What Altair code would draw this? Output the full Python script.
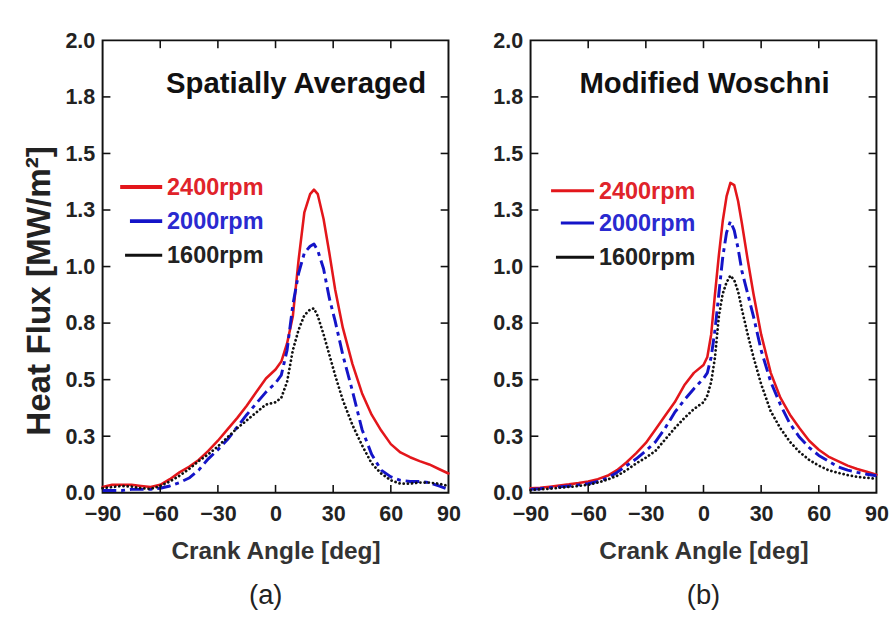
import altair as alt
import pandas as pd

FONT = "Liberation Sans"

# Axis tick positions
x_ticks = [-90, -60, -30, 0, 30, 60, 90]
y_ticks = [0.0, 0.25, 0.5, 0.75, 1.0, 1.25, 1.5, 1.75, 2.0]

speeds = ["2400rpm", "2000rpm", "1600rpm"]
line_colors = ["#e3161b", "#1414c8", "#111111"]
text_colors = ["#e0232a", "#2a2ad0", "#222222"]

# (a) Spatially averaged measured heat flux [MW/m^2] vs crank angle [deg]
angle_a = [-90, -85, -80, -75, -70, -65, -60, -55, -50, -45, -40, -35, -30, -25,
           -20, -15, -10, -5, 0, 3, 6, 9, 12, 15, 18, 20, 22, 25, 28, 31, 35,
           40, 45, 50, 55, 60, 65, 70, 75, 80, 85, 90]
avg_2400 = [0.025, 0.035, 0.035, 0.035, 0.03, 0.025, 0.035, 0.06, 0.09, 0.115,
            0.145, 0.185, 0.23, 0.28, 0.33, 0.385, 0.445, 0.505, 0.545, 0.58,
            0.66, 0.78, 1.03, 1.24, 1.32, 1.34, 1.32, 1.21, 1.06, 0.90, 0.73,
            0.57, 0.44, 0.345, 0.275, 0.215, 0.178, 0.157, 0.14, 0.125, 0.105,
            0.085]
avg_2000 = [0.01, 0.01, 0.01, 0.015, 0.015, 0.015, 0.02, 0.03, 0.045, 0.065,
            0.10, 0.15, 0.19, 0.235, 0.29, 0.345, 0.395, 0.445, 0.485, 0.52,
            0.63, 0.83, 0.97, 1.06, 1.09, 1.10, 1.07, 0.99, 0.86, 0.76, 0.61,
            0.45, 0.28, 0.17, 0.10, 0.07, 0.055, 0.05, 0.05, 0.045, 0.03, 0.015]
avg_1600 = [0.02, 0.025, 0.03, 0.027, 0.02, 0.017, 0.03, 0.05, 0.075, 0.105,
            0.14, 0.17, 0.205, 0.245, 0.285, 0.32, 0.355, 0.39, 0.40, 0.42,
            0.49, 0.63, 0.72, 0.785, 0.81, 0.815, 0.78, 0.70, 0.61, 0.52, 0.41,
            0.30, 0.21, 0.13, 0.085, 0.055, 0.04, 0.04, 0.045, 0.045, 0.04, 0.03]

# (b) Modified Woschni correlation heat flux [MW/m^2] vs crank angle [deg]
angle_b = [-90, -85, -80, -75, -70, -65, -60, -55, -50, -45, -40, -35, -30, -25,
           -20, -15, -10, -5, 0, 2, 4, 6, 8, 10, 12, 14, 16, 18, 20, 23, 26, 30,
           35, 40, 45, 50, 55, 60, 65, 70, 75, 80, 85, 90]
wos_2400 = [0.02, 0.022, 0.027, 0.032, 0.037, 0.043, 0.05, 0.06, 0.075, 0.10,
            0.135, 0.175, 0.22, 0.28, 0.34, 0.40, 0.475, 0.53, 0.565, 0.60,
            0.70, 0.88, 1.05, 1.20, 1.31, 1.37, 1.36, 1.29, 1.19, 1.03, 0.88,
            0.70, 0.53, 0.42, 0.345, 0.285, 0.23, 0.19, 0.16, 0.14, 0.12,
            0.105, 0.093, 0.08]
wos_2000 = [0.015, 0.018, 0.022, 0.026, 0.03, 0.035, 0.04, 0.05, 0.065, 0.09,
            0.12, 0.15, 0.185, 0.225, 0.285, 0.355, 0.41, 0.46, 0.505, 0.53,
            0.60, 0.72, 0.88, 1.04, 1.15, 1.20, 1.16, 1.08, 0.98, 0.88, 0.78,
            0.63, 0.49, 0.39, 0.305, 0.245, 0.20, 0.165, 0.14, 0.115, 0.10,
            0.09, 0.082, 0.075]
wos_1600 = [0.012, 0.015, 0.018, 0.022, 0.026, 0.03, 0.035, 0.045, 0.058, 0.075,
            0.10, 0.13, 0.155, 0.185, 0.235, 0.285, 0.33, 0.37, 0.40, 0.43,
            0.49, 0.60, 0.78, 0.88, 0.93, 0.96, 0.94, 0.89, 0.81, 0.70, 0.60,
            0.48, 0.36, 0.285, 0.225, 0.18, 0.145, 0.12, 0.10, 0.088, 0.078,
            0.07, 0.066, 0.062]

W, H = 354, 463
TICK = 8

x_scale = alt.Scale(domain=[-90, 90], nice=False, zero=False)
y_scale = alt.Scale(domain=[0, 2], nice=False)

line_styles = [
    dict(strokeWidth=2.6, strokeCap="round"),
    dict(strokeWidth=3, strokeDash=[14, 5, 4, 5], strokeCap="butt"),
    dict(strokeWidth=2.8, strokeDash=[0.1, 4.2], strokeCap="round"),
]


def series_frame(angles, series_values):
    rows = []
    for name, vals in zip(speeds, series_values):
        for a, v in zip(angles, vals):
            rows.append({"angle": a, "flux": v, "speed": name})
    return pd.DataFrame(rows)


def panel(angles, series_values, title, title_x, legend_geom, show_y_title, tag, tag_dx):
    df = series_frame(angles, series_values)
    x_axis = alt.Axis(values=x_ticks, title="Crank Angle [deg]", ticks=False,
                      domain=False, grid=False, labelFontSize=22,
                      labelFontWeight="bold", labelColor="#222", labelPadding=11,
                      titleFontSize=25, titleFontWeight="bold", titleColor="#333",
                      titlePadding=15, labelFlush=False)
    y_axis_kwargs = dict(values=y_ticks, format=".1f", ticks=False, domain=False,
                         grid=False, labelFontSize=22, labelFontWeight="bold",
                         labelColor="#222", labelPadding=8)
    if show_y_title:
        y_axis = alt.Axis(title="Heat Flux [MW/m²]", titleFontSize=34,
                          titleFontWeight="bold", titleColor="#222",
                          titlePadding=9, titleY=256, **y_axis_kwargs)
    else:
        y_axis = alt.Axis(title=None, **y_axis_kwargs)

    layers = []
    for name, color, style in zip(speeds, line_colors, line_styles):
        layers.append(
            alt.Chart(df).transform_filter(alt.datum.speed == name)
            .mark_line(color=color, strokeJoin="round", **style)
            .encode(x=alt.X("angle:Q", scale=x_scale, axis=x_axis),
                    y=alt.Y("flux:Q", scale=y_scale, axis=y_axis))
        )

    # inward-facing ticks on all four sides of the frame
    inner_x = pd.DataFrame({"angle": x_ticks[1:-1]})
    inner_y = pd.DataFrame({"flux": y_ticks[1:-1]})
    tx = alt.X("angle:Q", scale=x_scale, axis=x_axis)
    ty = alt.Y("flux:Q", scale=y_scale, axis=y_axis)
    tick_mark = dict(color="#111", strokeWidth=1.6)
    layers += [
        alt.Chart(inner_x).mark_rule(**tick_mark).encode(x=tx, y=alt.value(H), y2=alt.value(H - TICK)),
        alt.Chart(inner_x).mark_rule(**tick_mark).encode(x=tx, y=alt.value(0), y2=alt.value(TICK)),
        alt.Chart(inner_y).mark_rule(**tick_mark).encode(y=ty, x=alt.value(0), x2=alt.value(TICK)),
        alt.Chart(inner_y).mark_rule(**tick_mark).encode(y=ty, x=alt.value(W), x2=alt.value(W - TICK)),
    ]

    # panel heading inside the frame
    layers.append(
        alt.Chart(pd.DataFrame({"txt": [title]}))
        .mark_text(font=FONT, fontSize=30, fontWeight="bold", color="#111",
                   align="center", baseline="middle")
        .encode(x=alt.value(title_x), y=alt.value(45), text="txt:N")
    )

    # legend: short line + coloured label
    for i, (name, lcol, tcol) in enumerate(zip(speeds, line_colors, text_colors)):
        x0, x1, ly, lw = legend_geom[i]
        layers.append(
            alt.Chart(pd.DataFrame({"label": [name]}))
            .mark_rule(color=lcol, strokeWidth=lw)
            .encode(x=alt.value(x0), x2=alt.value(x1), y=alt.value(ly))
        )
        layers.append(
            alt.Chart(pd.DataFrame({"label": [name]}))
            .mark_text(font=FONT, fontSize=24, fontWeight="bold", color=tcol,
                       align="left", baseline="middle")
            .encode(x=alt.value(x1 + 5), y=alt.value(ly + 1), text="label:N")
        )

    return alt.layer(*layers).properties(
        width=W, height=H,
        title=alt.TitleParams(tag, orient="bottom", fontSize=28,
                              fontWeight="normal", font=FONT, color="#222",
                              offset=20, dx=tag_dx),
    )


left = panel(angle_a, [avg_2400, avg_2000, avg_1600], "Spatially Averaged", 198,
             [(18, 61, 150, 4), (28, 61, 185, 4), (23, 61, 220, 3)],
             True, "(a)", -10)
right = panel(angle_b, [wos_2400, wos_2000, wos_1600], "Modified Woschni", 178,
              [(21, 65, 154, 3), (31, 65, 187, 3), (26, 65, 222, 3)],
              False, "(b)", 0)

chart = (
    alt.hconcat(left, right, spacing=30)
    .properties(padding={"left": 22, "top": 22, "right": 5, "bottom": 5},
                background="white")
    .configure(font=FONT)
    .configure_view(stroke="#111", strokeWidth=2)
)

chart.save("out.html", embed_options={"renderer": "svg", "actions": False})
